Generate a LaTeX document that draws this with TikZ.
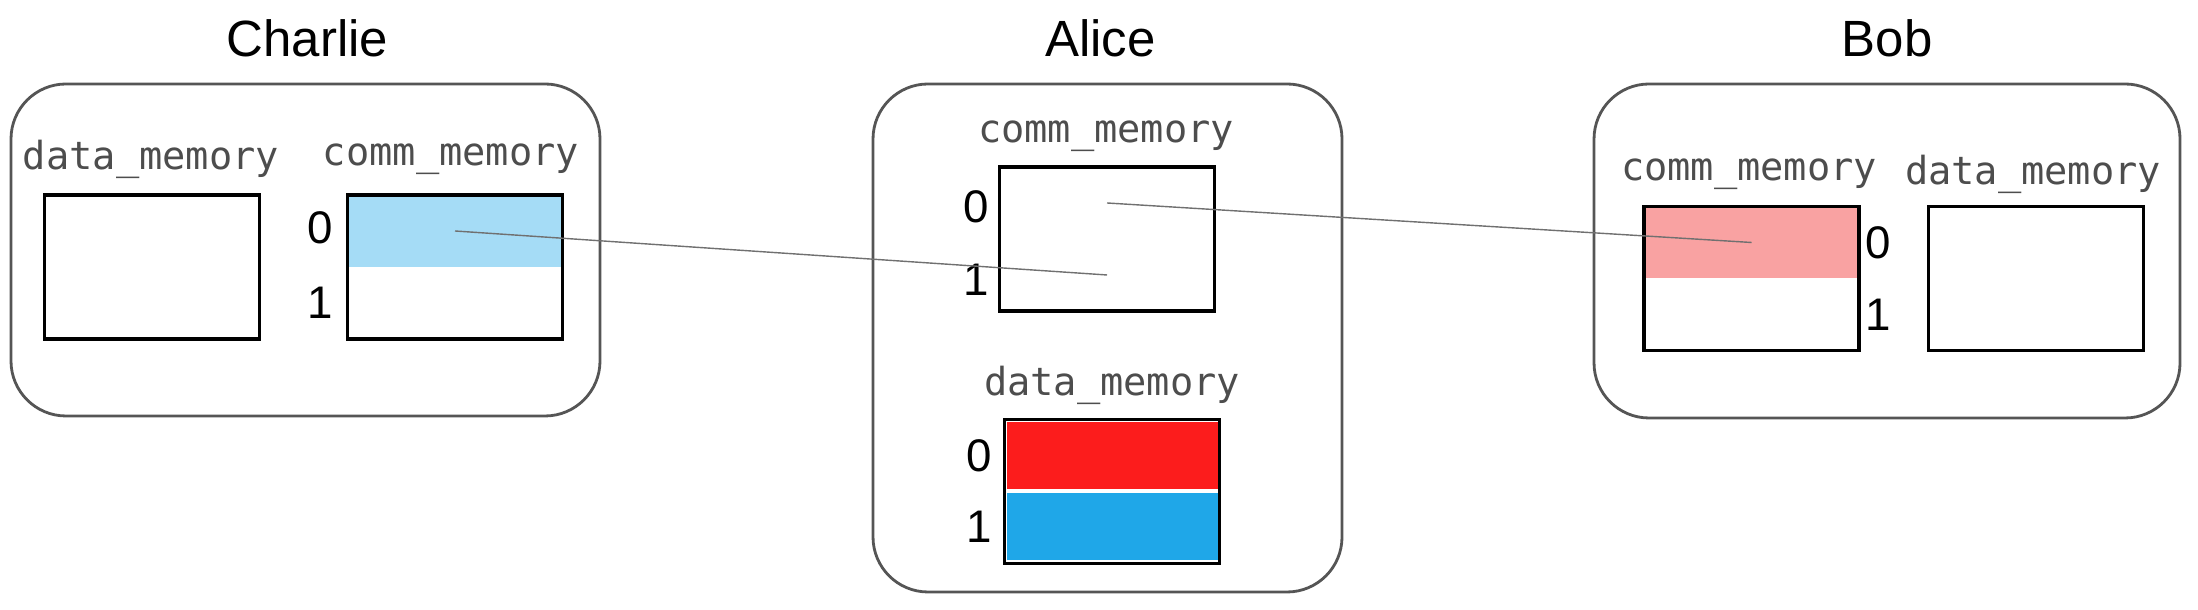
\documentclass[tikz,border=0pt]{standalone}
\usepackage{fontspec}
\setmainfont{Liberation Sans}
\setmonofont{DejaVu Sans Mono}
\usetikzlibrary{positioning}
\definecolor{framegray}{HTML}{555555}
\definecolor{labelgray}{HTML}{4D4D4D}
\definecolor{wiregray}{HTML}{707070}
\definecolor{paleblue}{HTML}{A5DCF6}
\definecolor{palered}{HTML}{F9A2A2}
\definecolor{qred}{HTML}{FC1C1C}
\definecolor{qblue}{HTML}{1FA7E8}
\begin{document}
\begin{tikzpicture}[
	host/.style={draw=framegray,line width=0.8pt,rounded corners=0.55cm,inner sep=0pt},
	mem/.style={draw=black,line width=1pt,minimum width=2.15cm,minimum height=1.44cm,inner sep=0pt},
	cell/.style={minimum width=2.15cm,minimum height=0.72cm,inner sep=0pt},
	lbl/.style={font=\ttfamily\fontsize{11}{13}\selectfont,text=labelgray},
	idx/.style={font=\fontsize{13}{15}\selectfont,inner sep=0pt},
	title/.style={font=\fontsize{14.5}{17}\selectfont,inner sep=0pt},
	wire/.style={draw=wiregray,line width=0.4pt}]
	\useasboundingbox (0,0) rectangle (21.98,6.10);
	% Charlie
	\path
	(3.055,3.60)  node[host,minimum width=5.89cm,minimum height=3.32cm] (charlie) {}
	node[title,above=2.5mm of charlie,xshift=0.02cm] {Charlie}
	(1.51,4.51)   node[lbl] (Cdatalbl) {data\_memory}
	(1.52,3.43)   node[mem] (Cdata) {}
	(4.51,4.51)   node[lbl] (Ccommlbl) {comm\_memory}
	(4.55,3.79)   node[cell,fill=paleblue] (Ccomm0) {}
	(4.55,3.07)   node[cell] (Ccomm1) {}
	(4.55,3.43)   node[mem] (Ccomm) {};
	\node[idx,left=1.3mm of Ccomm0,yshift=0.3mm] {0};
	\node[idx,left=1.3mm of Ccomm1] {1};
	% Alice
	\path
	(11.075,2.72) node[host,minimum width=4.69cm,minimum height=5.08cm] (alice) {}
	node[title,above=2.5mm of alice,xshift=-0.07cm] {Alice}
	(11.06,4.74)  node[lbl] (Acommlbl) {comm\_memory}
	(11.07,4.07)  node[cell] (Acomm0) {}
	(11.07,3.35)  node[cell] (Acomm1) {}
	(11.07,3.71)  node[mem] (Acomm) {}
	(11.12,2.25)  node[lbl] (Adatalbl) {data\_memory}
	(11.12,1.545) node[cell,fill=qred,minimum width=2.11cm,minimum height=0.67cm] (Adata0) {}
	(11.12,0.83)  node[cell,fill=qblue,minimum width=2.11cm,minimum height=0.67cm] (Adata1) {}
	(11.12,1.185) node[mem] (Adata) {};
	\node[idx,left=0.8mm of Acomm.west|-Acomm0,yshift=-0.4mm] {0};
	\node[idx,left=0.8mm of Acomm.west|-Acomm1,yshift=-0.5mm] {1};
	\node[idx,left=1mm of Adata.west|-Adata0] {0};
	\node[idx,left=1mm of Adata.west|-Adata1] {1};
	% Bob
	\path
	(18.87,3.59)  node[host,minimum width=5.86cm,minimum height=3.34cm] (bob) {}
	node[title,above=2.5mm of bob] {Bob}
	(17.49,4.36)  node[lbl] (Bcommlbl) {comm\_memory}
	(17.515,3.675) node[cell,fill=palered] (Bcomm0) {}
	(17.515,2.955) node[cell] (Bcomm1) {}
	(17.515,3.315) node[mem] (Bcomm) {}
	(20.33,4.36)  node[lbl] (Bdatalbl) {data\_memory}
	(20.36,3.315) node[mem] (Bdata) {};
	\node[idx,right=0.5mm of Bcomm0] {0};
	\node[idx,right=0.5mm of Bcomm1] {1};
	% links between the comm cells
	\draw[wire] (Ccomm0.center)--(Acomm1.center);
	\draw[wire] (Acomm0.center)--(Bcomm0.center);
\end{tikzpicture}
\end{document}
